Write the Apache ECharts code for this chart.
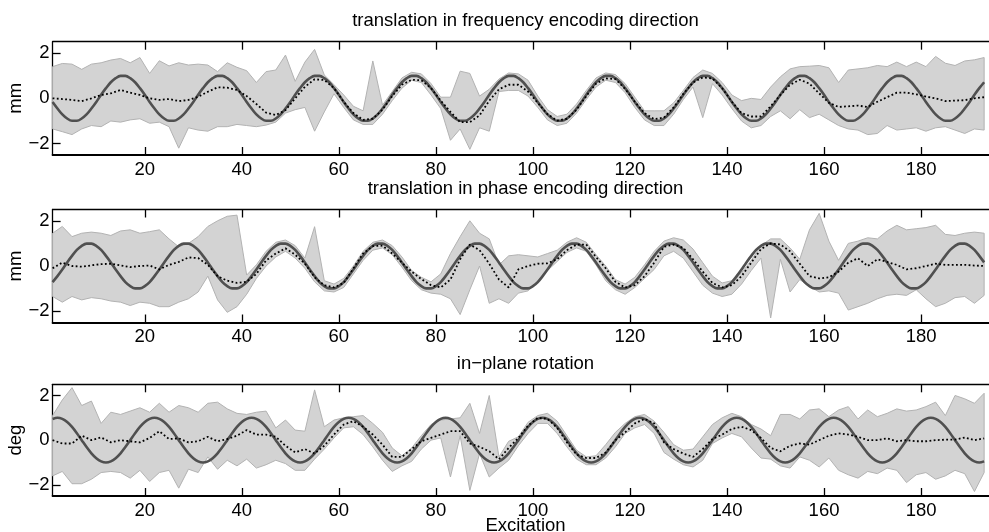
<!DOCTYPE html>
<html>
<head>
<meta charset="utf-8">
<script src="https://cdn.jsdelivr.net/npm/echarts@6/dist/echarts.min.js"></script>
<style>
html,body{margin:0;padding:0;background:#fff;}
#chart{width:989px;height:532px;}
</style>
</head>
<body>
<div id="chart"></div>
<script>
// ---------------- data ----------------
// excitation numbers at which the estimate band / mean were read (every 2nd excitation)
const excitation = [1,3,5,7,9,11,13,15,17,19,21,23,25,27,29,31,33,35,37,39,41,43,45,47,49,51,53,55,57,59,61,63,65,67,69,71,73,75,77,79,81,83,85,87,89,91,93,95,97,99,101,103,105,107,109,111,113,115,117,119,121,123,125,127,129,131,133,135,137,139,141,143,145,147,149,151,153,155,157,159,161,163,165,167,169,171,173,175,177,179,181,183,185,187,189,191,193];
// excitation numbers at which the true (sinusoidal) motion was read (every excitation)
const trueExcitation = [1,2,3,4,5,6,7,8,9,10,11,12,13,14,15,16,17,18,19,20,21,22,23,24,25,26,27,28,29,30,31,32,33,34,35,36,37,38,39,40,41,42,43,44,45,46,47,48,49,50,51,52,53,54,55,56,57,58,59,60,61,62,63,64,65,66,67,68,69,70,71,72,73,74,75,76,77,78,79,80,81,82,83,84,85,86,87,88,89,90,91,92,93,94,95,96,97,98,99,100,101,102,103,104,105,106,107,108,109,110,111,112,113,114,115,116,117,118,119,120,121,122,123,124,125,126,127,128,129,130,131,132,133,134,135,136,137,138,139,140,141,142,143,144,145,146,147,148,149,150,151,152,153,154,155,156,157,158,159,160,161,162,163,164,165,166,167,168,169,170,171,172,173,174,175,176,177,178,179,180,181,182,183,184,185,186,187,188,189,190,191,192,193];

const xTicks = [20,40,60,80,100,120,140,160,180];
const yTicks = [-2,0,2];
const panelTitles = ['translation in frequency encoding direction','translation in phase encoding direction','in\u2212plane rotation'];
const yNames = ['mm','mm','deg'];
const xName = 'Excitation';

// panel 1: translation in frequency encoding direction
const freqUpper = [
1.40,1.54,1.51,1.28,1.51,1.57,1.69,1.76,1.57,1.80,
1.10,1.66,1.43,1.57,1.47,1.51,1.47,1.18,1.57,1.37,
1.22,0.70,1.18,1.25,1.91,0.75,1.60,2.16,1.03,0.60,
0.15,-0.35,-0.55,1.65,-0.30,0.30,0.90,1.15,1.08,0.65,
0.05,0.05,1.20,1.10,0.10,0.40,0.85,1.12,1.08,0.80,
0.10,-0.50,-0.80,-0.70,-0.25,0.35,0.90,1.12,1.05,0.65,
0.05,-0.55,-0.55,-0.55,-0.20,0.35,0.92,1.25,1.10,0.70,
0.15,-0.10,0.00,-0.05,0.50,0.95,1.30,1.40,1.42,1.45,
1.35,0.70,1.25,1.30,1.35,1.45,1.40,1.60,1.40,1.60,
1.40,1.85,1.55,1.45,1.65,1.70,1.80];
const freqLower = [
-1.35,-1.47,-1.60,-1.35,-1.20,-1.25,-1.00,-1.05,-0.95,-0.90,
-1.10,-1.05,-1.25,-2.20,-1.30,-1.40,-1.45,-1.25,-1.25,-1.15,
-1.20,-1.25,-1.18,-1.05,-0.65,-0.50,-0.40,-1.45,-0.60,0.20,
-0.40,-0.95,-1.15,-1.15,-0.70,-0.10,0.45,0.80,0.70,0.15,
-0.45,-1.85,-1.35,-2.25,-1.30,-1.45,0.30,0.35,0.35,0.10,
-0.40,-0.95,-1.20,-1.10,-0.65,-0.05,0.50,0.80,0.70,0.25,
-0.40,-0.95,-1.20,-1.20,-0.70,-0.05,0.50,-0.85,0.65,0.15,
-0.45,-1.00,-1.30,-1.20,-0.80,-0.55,-0.90,-0.50,-0.85,-0.70,
-0.95,-1.20,-1.35,-1.40,-1.60,-1.55,-1.20,-1.40,-1.35,-1.30,
-1.45,-1.30,-1.25,-1.40,-1.55,-1.35,-1.40];
const freqMean = [
0.00,-0.03,-0.07,-0.12,0.00,0.15,0.22,0.37,0.25,0.15,
0.00,-0.07,-0.03,-0.12,-0.07,0.07,0.29,0.49,0.47,0.37,
0.10,-0.25,-0.63,-0.74,-0.52,0.00,0.51,0.84,0.81,0.45,
-0.15,-0.65,-0.95,-0.90,-0.50,0.10,0.60,0.82,0.80,0.45,
-0.10,-0.60,-1.05,-1.05,-0.75,-0.10,0.40,0.60,0.60,0.30,
-0.20,-0.70,-0.98,-0.90,-0.50,0.10,0.65,0.88,0.85,0.42,
-0.15,-0.65,-0.92,-0.85,-0.40,0.20,0.70,0.92,0.88,0.45,
-0.15,-0.65,-0.80,-0.80,-0.35,0.15,0.60,0.82,0.65,0.22,
-0.20,-0.38,-0.35,-0.32,-0.38,-0.15,0.05,0.25,0.25,0.18,
0.08,0.00,-0.12,-0.10,-0.08,0.00,0.05];
const freqTrue = [
-0.16,-0.45,-0.71,-0.89,-0.99,-0.99,-0.89,-0.71,-0.45,-0.16,0.16,0.45,0.71,0.89,0.99,0.99,0.89,0.71,0.45,0.16,
-0.16,-0.45,-0.71,-0.89,-0.99,-0.99,-0.89,-0.71,-0.45,-0.16,0.16,0.45,0.71,0.89,0.99,0.99,0.89,0.71,0.45,0.16,
-0.16,-0.45,-0.71,-0.89,-0.99,-0.99,-0.89,-0.71,-0.45,-0.16,0.16,0.45,0.71,0.89,0.99,0.99,0.89,0.71,0.45,0.16,
-0.16,-0.45,-0.71,-0.89,-0.99,-0.99,-0.89,-0.71,-0.45,-0.16,0.16,0.45,0.71,0.89,0.99,0.99,0.89,0.71,0.45,0.16,
-0.16,-0.45,-0.71,-0.89,-0.99,-0.99,-0.89,-0.71,-0.45,-0.16,0.16,0.45,0.71,0.89,0.99,0.99,0.89,0.71,0.45,0.16,
-0.16,-0.45,-0.71,-0.89,-0.99,-0.99,-0.89,-0.71,-0.45,-0.16,0.16,0.45,0.71,0.89,0.99,0.99,0.89,0.71,0.45,0.16,
-0.16,-0.45,-0.71,-0.89,-0.99,-0.99,-0.89,-0.71,-0.45,-0.16,0.16,0.45,0.71,0.89,0.99,0.99,0.89,0.71,0.45,0.16,
-0.16,-0.45,-0.71,-0.89,-0.99,-0.99,-0.89,-0.71,-0.45,-0.16,0.16,0.45,0.71,0.89,0.99,0.99,0.89,0.71,0.45,0.16,
-0.16,-0.45,-0.71,-0.89,-0.99,-0.99,-0.89,-0.71,-0.45,-0.16,0.16,0.45,0.71,0.89,0.99,0.99,0.89,0.71,0.45,0.16,
-0.16,-0.45,-0.71,-0.89,-0.99,-0.99,-0.89,-0.71,-0.45,-0.16,0.16,0.45,0.71];

// panel 2: translation in phase encoding direction
const phaseUpper = [
1.45,1.75,1.30,1.45,1.50,1.45,1.35,1.55,1.60,1.45,
1.52,1.60,1.20,0.85,1.00,1.30,1.75,2.00,2.20,2.25,
-0.40,0.05,0.65,1.05,1.15,0.90,0.35,1.74,-0.65,-0.80,
-0.55,0.00,0.65,1.05,1.15,0.90,0.40,-0.20,-0.50,-0.70,
-0.35,0.55,1.30,2.00,1.45,1.20,0.05,0.45,0.50,0.45,
0.40,0.55,0.70,1.05,1.25,1.05,0.50,0.00,-0.60,-0.80,
-0.50,0.05,0.65,1.10,1.25,1.15,0.75,0.15,-0.45,-0.75,
-0.65,-0.30,0.25,0.90,1.20,1.20,0.80,0.30,1.60,2.33,
1.10,0.25,1.00,1.10,1.25,1.20,1.55,1.80,1.60,1.65,
1.70,1.80,1.40,1.35,1.45,1.50,1.45];
const phaseLower = [
-1.35,-1.60,-1.35,-1.50,-1.40,-1.45,-1.55,-1.60,-1.75,-1.60,
-1.65,-1.80,-1.80,-1.60,-1.45,-1.15,-0.45,-1.50,-2.05,-1.80,
-1.25,-0.55,0.00,0.40,0.65,0.35,-0.10,-0.70,-1.10,-1.15,
-0.95,-0.35,0.25,0.70,0.80,0.50,-0.05,-0.65,-1.05,-1.20,
-1.25,-1.45,-2.15,-1.05,0.00,-1.65,-1.45,-1.65,-1.20,-1.10,
-0.65,-0.20,0.20,0.60,0.80,0.65,0.05,-0.65,-1.05,-1.25,
-0.95,-0.55,-0.15,0.45,0.65,0.35,-0.25,-0.85,-1.20,-1.35,
-1.25,-0.80,-0.20,0.35,-2.30,0.30,-1.15,-0.60,-0.90,-1.15,
-1.10,-1.20,-1.95,-1.80,-1.65,-1.45,-1.30,-1.25,-1.30,-1.05,
-1.45,-1.80,-1.65,-1.40,-1.35,-1.65,-1.30];
const phaseMean = [
-0.10,0.15,0.00,-0.03,0.03,0.08,0.10,0.03,-0.05,0.00,
0.02,-0.15,0.05,0.18,0.38,0.35,0.05,-0.45,-0.65,-0.75,
-0.70,-0.35,0.25,0.55,0.78,0.50,0.10,-0.50,-0.85,-0.95,
-0.75,-0.10,0.55,0.88,0.90,0.55,0.15,-0.25,-0.58,-0.85,
-0.95,-0.60,0.30,0.95,0.70,0.10,-0.60,-0.95,-0.15,0.00,
0.10,0.12,0.30,0.70,0.95,0.95,0.40,-0.10,-0.70,-0.95,
-0.85,-0.45,0.15,0.85,0.95,0.80,0.30,-0.25,-0.75,-0.95,
-0.85,-0.45,0.15,0.75,1.00,0.95,0.65,0.10,-0.45,-0.55,
-0.50,-0.25,0.15,0.34,0.00,0.30,0.18,0.05,-0.15,-0.10,
0.00,0.10,0.05,0.05,0.05,0.02,0.00];
const phaseTrue = [
-0.71,-0.45,-0.16,0.16,0.45,0.71,0.89,0.99,0.99,0.89,0.71,0.45,0.16,-0.16,-0.45,-0.71,-0.89,-0.99,-0.99,-0.89,
-0.71,-0.45,-0.16,0.16,0.45,0.71,0.89,0.99,0.99,0.89,0.71,0.45,0.16,-0.16,-0.45,-0.71,-0.89,-0.99,-0.99,-0.89,
-0.71,-0.45,-0.16,0.16,0.45,0.71,0.89,0.99,0.99,0.89,0.71,0.45,0.16,-0.16,-0.45,-0.71,-0.89,-0.99,-0.99,-0.89,
-0.71,-0.45,-0.16,0.16,0.45,0.71,0.89,0.99,0.99,0.89,0.71,0.45,0.16,-0.16,-0.45,-0.71,-0.89,-0.99,-0.99,-0.89,
-0.71,-0.45,-0.16,0.16,0.45,0.71,0.89,0.99,0.99,0.89,0.71,0.45,0.16,-0.16,-0.45,-0.71,-0.89,-0.99,-0.99,-0.89,
-0.71,-0.45,-0.16,0.16,0.45,0.71,0.89,0.99,0.99,0.89,0.71,0.45,0.16,-0.16,-0.45,-0.71,-0.89,-0.99,-0.99,-0.89,
-0.71,-0.45,-0.16,0.16,0.45,0.71,0.89,0.99,0.99,0.89,0.71,0.45,0.16,-0.16,-0.45,-0.71,-0.89,-0.99,-0.99,-0.89,
-0.71,-0.45,-0.16,0.16,0.45,0.71,0.89,0.99,0.99,0.89,0.71,0.45,0.16,-0.16,-0.45,-0.71,-0.89,-0.99,-0.99,-0.89,
-0.71,-0.45,-0.16,0.16,0.45,0.71,0.89,0.99,0.99,0.89,0.71,0.45,0.16,-0.16,-0.45,-0.71,-0.89,-0.99,-0.99,-0.89,
-0.71,-0.45,-0.16,0.16,0.45,0.71,0.89,0.99,0.99,0.89,0.71,0.45,0.16];

// panel 3: in-plane rotation
const rotUpper = [
1.10,1.80,2.35,1.55,1.75,0.75,1.25,1.15,1.30,1.45,
1.25,1.65,1.25,1.55,1.45,1.25,1.65,1.70,1.40,1.20,
1.15,1.25,1.30,0.55,0.90,0.45,0.40,2.25,0.60,0.90,
1.00,1.05,1.10,0.75,0.35,-0.35,-0.70,-0.35,0.20,0.70,
0.90,0.95,1.00,1.65,0.30,2.00,-0.75,-0.05,0.15,0.80,
1.10,1.20,0.85,0.20,-0.45,-0.75,-0.70,-0.20,0.35,0.75,
1.05,1.15,0.85,0.35,-0.20,-0.45,-0.40,0.15,0.70,1.00,
1.20,1.05,0.70,0.50,0.20,1.15,1.15,0.95,1.35,1.40,
1.05,1.35,1.50,0.95,1.35,1.05,1.20,1.40,1.30,1.35,
1.50,1.70,1.10,2.00,1.85,1.65,2.10];
const rotLower = [
-1.60,-1.40,-1.95,-1.95,-1.75,-1.45,-1.40,-1.45,-1.70,-1.35,
-1.85,-1.45,-1.35,-2.15,-1.30,-1.45,-0.75,-1.30,-0.90,-1.15,
-0.85,-1.25,-1.10,-0.90,-1.05,-1.35,-1.35,-0.85,-0.40,0.10,
0.55,0.60,0.25,-0.30,-0.90,-1.40,-1.15,-0.95,-0.40,0.00,
0.10,-1.65,0.20,-2.25,-0.60,-1.65,-1.25,-0.90,-0.25,0.30,
0.75,0.75,0.30,-0.30,-0.85,-1.10,-1.10,-0.80,-0.30,0.30,
0.55,0.70,0.30,-0.55,-0.85,-1.10,-1.20,-0.90,-0.15,0.10,
0.30,0.15,-0.35,-0.80,-0.85,-1.15,-1.25,-0.75,-0.90,-1.20,
-0.80,-1.35,-1.55,-1.70,-1.40,-1.50,-1.25,-1.35,-1.90,-1.55,
-1.45,-1.75,-1.60,-1.35,-1.50,-2.30,-1.45];
const rotMean = [
0.00,-0.15,-0.15,0.20,0.00,0.12,-0.10,0.00,-0.05,-0.10,
0.10,0.40,0.05,0.08,-0.10,-0.05,0.15,-0.05,0.05,0.20,
0.45,0.25,0.25,0.15,-0.25,-0.55,-0.40,-0.60,-0.25,0.25,
0.70,0.85,0.60,0.25,-0.20,-0.75,-0.75,-0.40,-0.05,0.10,
0.25,0.40,0.40,-0.15,-0.30,-0.50,-0.85,-0.35,0.10,0.65,
1.00,0.95,0.55,-0.10,-0.65,-0.80,-0.80,-0.55,0.00,0.35,
0.75,0.95,0.75,-0.10,-0.40,-0.60,-0.75,-0.40,0.05,0.25,
0.50,0.60,0.45,0.10,-0.35,-0.50,-0.25,-0.15,-0.20,0.00,
0.20,0.30,0.25,0.15,0.00,0.00,0.08,-0.05,0.00,-0.05,
-0.05,0.00,0.02,0.02,0.12,0.00,0.08];
const rotTrue = [
0.95,1.00,0.95,0.81,0.59,0.31,0.00,-0.31,-0.59,-0.81,-0.95,-1.00,-0.95,-0.81,-0.59,-0.31,0.00,0.31,0.59,0.81,
0.95,1.00,0.95,0.81,0.59,0.31,0.00,-0.31,-0.59,-0.81,-0.95,-1.00,-0.95,-0.81,-0.59,-0.31,0.00,0.31,0.59,0.81,
0.95,1.00,0.95,0.81,0.59,0.31,0.00,-0.31,-0.59,-0.81,-0.95,-1.00,-0.95,-0.81,-0.59,-0.31,0.00,0.31,0.59,0.81,
0.95,1.00,0.95,0.81,0.59,0.31,0.00,-0.31,-0.59,-0.81,-0.95,-1.00,-0.95,-0.81,-0.59,-0.31,0.00,0.31,0.59,0.81,
0.95,1.00,0.95,0.81,0.59,0.31,0.00,-0.31,-0.59,-0.81,-0.95,-1.00,-0.95,-0.81,-0.59,-0.31,0.00,0.31,0.59,0.81,
0.95,1.00,0.95,0.81,0.59,0.31,0.00,-0.31,-0.59,-0.81,-0.95,-1.00,-0.95,-0.81,-0.59,-0.31,0.00,0.31,0.59,0.81,
0.95,1.00,0.95,0.81,0.59,0.31,0.00,-0.31,-0.59,-0.81,-0.95,-1.00,-0.95,-0.81,-0.59,-0.31,0.00,0.31,0.59,0.81,
0.95,1.00,0.95,0.81,0.59,0.31,0.00,-0.31,-0.59,-0.81,-0.95,-1.00,-0.95,-0.81,-0.59,-0.31,0.00,0.31,0.59,0.81,
0.95,1.00,0.95,0.81,0.59,0.31,0.00,-0.31,-0.59,-0.81,-0.95,-1.00,-0.95,-0.81,-0.59,-0.31,0.00,0.31,0.59,0.81,
0.95,1.00,0.95,0.81,0.59,0.31,0.00,-0.31,-0.59,-0.81,-0.95,-1.00,-0.95];

// ---------------- layout / style ----------------
const FONT = '"Liberation Sans", Arial, Helvetica, sans-serif';
const FS = 18.5;
const plotLeft = 52.6, plotWidth = 945.8;
const panelTops = [41.7, 209.5, 384.3];
const panelHeights = [113.3, 113, 111.7];
const panels = [
  {upper: freqUpper, lower: freqLower, mean: freqMean, truth: freqTrue},
  {upper: phaseUpper, lower: phaseLower, mean: phaseMean, truth: phaseTrue},
  {upper: rotUpper, lower: rotLower, mean: rotMean, truth: rotTrue}
];
const centerX = plotLeft + plotWidth / 2;

const grids = [], xAxes = [], yAxes = [], series = [], graphics = [];

function fmtY(v) { return v < 0 ? '\u2212' + Math.abs(v) : String(v); }

panels.forEach(function (p, k) {
  grids.push({left: plotLeft, top: panelTops[k], width: plotWidth, height: panelHeights[k], containLabel: false});
  xAxes.push({
    type: 'value', gridIndex: k, min: 1, max: 194, position: 'bottom',
    axisLine: {show: true, onZero: false, lineStyle: {color: '#000', width: 2}},
    axisTick: {show: true, inside: true, length: 8, customValues: xTicks, lineStyle: {color: '#000', width: 1.3}},
    axisLabel: {show: true, customValues: xTicks, margin: 5, color: '#000', fontSize: FS, fontFamily: FONT},
    splitLine: {show: false}
  });
  xAxes.push({
    type: 'value', gridIndex: k, min: 1, max: 194, position: 'top',
    axisLine: {show: true, onZero: false, lineStyle: {color: '#000', width: 1.3}},
    axisTick: {show: true, inside: true, length: 8, customValues: xTicks, lineStyle: {color: '#000', width: 1.3}},
    axisLabel: {show: false},
    splitLine: {show: false}
  });
  yAxes.push({
    type: 'value', gridIndex: k, min: -2.5, max: 2.5, position: 'left',
    axisLine: {show: true, onZero: false, lineStyle: {color: '#000', width: 1.3}},
    axisTick: {show: true, inside: true, length: 8, customValues: yTicks, lineStyle: {color: '#000', width: 1.3}},
    axisLabel: {show: true, customValues: yTicks, margin: 3, color: '#000', fontSize: FS, fontFamily: FONT, formatter: fmtY},
    splitLine: {show: false}
  });

  const upper = p.upper, lower = p.lower;
  series.push({
    type: 'custom', xAxisIndex: 2 * k, yAxisIndex: k, silent: true, z: 1, clip: true,
    data: excitation.map(function (x, i) { return [x, upper[i], lower[i]]; }),
    encode: {x: 0, y: [1, 2]},
    renderItem: function (params, api) {
      if (params.dataIndex !== 0) return {type: 'group', children: []};
      const pts = [];
      for (let i = 0; i < excitation.length; i++) pts.push(api.coord([excitation[i], upper[i]]));
      for (let i = excitation.length - 1; i >= 0; i--) pts.push(api.coord([excitation[i], lower[i]]));
      return {type: 'polygon', shape: {points: pts}, style: {fill: '#d3d3d3', stroke: '#b2b2b2', lineWidth: 1}};
    }
  });
  series.push({
    type: 'line', xAxisIndex: 2 * k, yAxisIndex: k, silent: true, z: 3,
    data: trueExcitation.map(function (x, i) { return [x, p.truth[i]]; }),
    symbol: 'none', smooth: 0.3,
    lineStyle: {color: '#505050', width: 2.6}
  });
  series.push({
    type: 'line', xAxisIndex: 2 * k, yAxisIndex: k, silent: true, z: 4,
    data: excitation.map(function (x, i) { return [x, p.mean[i]]; }),
    symbol: 'none',
    lineStyle: {color: '#000', width: 1.8, type: [1.8, 2.4]}
  });

  graphics.push({
    type: 'text', x: centerX, y: panelTops[k] - 20.8,
    style: {text: panelTitles[k], fill: '#000', font: FS + 'px ' + FONT, align: 'center', verticalAlign: 'middle'}
  });
  graphics.push({
    type: 'text', x: 16.1, y: panelTops[k] + panelHeights[k] / 2, rotation: Math.PI / 2,
    style: {text: yNames[k], fill: '#000', font: FS + 'px ' + FONT, align: 'center', verticalAlign: 'middle'}
  });
});

graphics.push({
  type: 'text', x: centerX, y: 526,
  style: {text: xName, fill: '#000', font: FS + 'px ' + FONT, align: 'center', verticalAlign: 'middle'}
});

const chart = echarts.init(document.getElementById('chart'), null, {renderer: 'canvas'});
chart.setOption({
  animation: false,
  backgroundColor: '#fff',
  textStyle: {fontFamily: FONT},
  grid: grids,
  xAxis: xAxes,
  yAxis: yAxes,
  series: series,
  graphic: graphics
});
</script>
</body>
</html>
